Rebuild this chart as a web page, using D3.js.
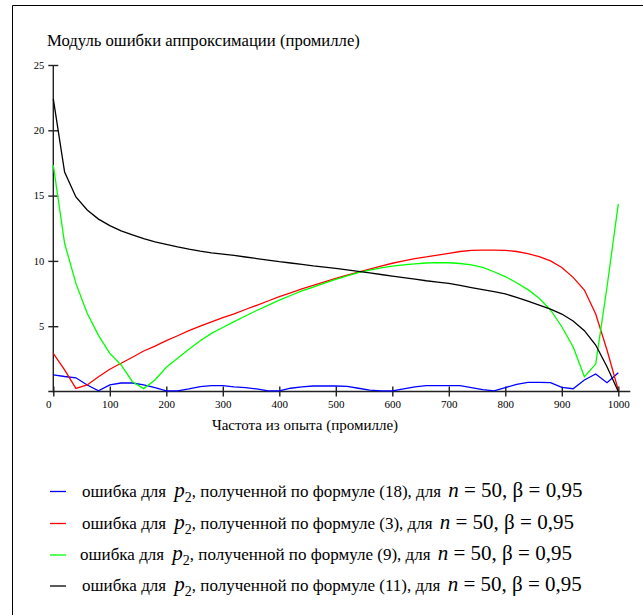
<!DOCTYPE html>
<html>
<head>
<meta charset="utf-8">
<script src="https://cdn.jsdelivr.net/npm/d3@7/dist/d3.min.js"></script>
<style>
  body { margin: 0; background: #fff; }
  svg text { font-family: "Liberation Serif", "Times New Roman", Times, Tinos, "DejaVu Serif", serif; }
</style>
</head>
<body>
<div id="chart"></div>
<script>
// частота из опыта (промилле)
var freq = [0, 20, 40, 60, 80, 100, 120, 140, 160, 180, 200, 220, 240, 260, 280, 300,
  320, 340, 360, 380, 400, 420, 440, 460, 480, 500, 520, 540, 560, 580, 600,
  620, 640, 660, 680, 700, 720, 740, 760, 780, 800, 820, 840, 860, 880, 900,
  920, 940, 960, 980, 1000];

// формула (18)
var errBlue = [1.28, 1.15, 1.05, 0.5, 0.05, 0.5, 0.65, 0.65, 0.5, 0.3, 0.05, 0.05, 0.2, 0.38, 0.45, 0.45,
  0.35, 0.3, 0.2, 0.05, 0.05, 0.25, 0.35, 0.42, 0.42, 0.42, 0.4, 0.25, 0.1, 0.05, 0.05,
  0.2, 0.35, 0.45, 0.45, 0.45, 0.45, 0.3, 0.15, 0.05, 0.3, 0.55, 0.7, 0.7, 0.68, 0.32,
  0.21, 0.88, 1.34, 0.67, 1.44];

// формула (3)
var errRed = [2.92, 1.65, 0.24, 0.5, 1.13, 1.7, 2.16, 2.62, 3.1, 3.48, 3.89, 4.27, 4.66, 5.0, 5.33, 5.65,
  5.95, 6.28, 6.6, 6.93, 7.26, 7.55, 7.85, 8.12, 8.4, 8.67, 8.92, 9.14, 9.37, 9.6, 9.82,
  10.0, 10.17, 10.3, 10.45, 10.58, 10.72, 10.81, 10.83, 10.83, 10.81, 10.72, 10.55, 10.32, 10.0, 9.5,
  8.74, 7.77, 5.93, 3.18, 0.1];

// формула (9)
var errGreen = [17.34, 11.35, 8.28, 5.99, 4.3, 2.92, 2.03, 0.75, 0.22, 0.88, 1.85, 2.54, 3.23, 3.89, 4.45, 4.9,
  5.35, 5.78, 6.2, 6.6, 7.0, 7.35, 7.7, 8.0, 8.3, 8.59, 8.85, 9.1, 9.3, 9.46, 9.6,
  9.7, 9.78, 9.84, 9.87, 9.86, 9.8, 9.7, 9.5, 9.17, 8.8, 8.33, 7.8, 7.14, 6.24, 4.96,
  3.43, 1.13, 2.1, 8.0, 14.36];

// формула (11)
var errBlack = [22.4, 16.8, 14.9, 13.9, 13.2, 12.7, 12.3, 12.0, 11.7, 11.45, 11.27, 11.07, 10.9, 10.75, 10.62, 10.52,
  10.42, 10.3, 10.18, 10.06, 9.94, 9.84, 9.73, 9.62, 9.53, 9.43, 9.32, 9.2, 9.08, 8.96, 8.84,
  8.72, 8.6, 8.48, 8.38, 8.28, 8.12, 7.96, 7.8, 7.64, 7.47, 7.2, 6.92, 6.62, 6.3, 5.93,
  5.4, 4.66, 3.56, 1.9, 0.0];

var formulas = ["18", "3", "9", "11"];
var colors = ["#0000ff", "#ff0000", "#00ff00", "#000000"];
var xTicks = [0, 100, 200, 300, 400, 500, 600, 700, 800, 900, 1000];
var yTicks = [5, 10, 15, 20, 25];

var W = 643, H = 615;

var svg = d3.select("#chart")
  .append("svg")
    .attr("width", W)
    .attr("height", H);

// frame (only top and left edges are visible)
svg.append("line")
  .attr("x1", 12.5).attr("x2", W).attr("y1", 5.5).attr("y2", 5.5)
  .style("stroke", "#000").style("stroke-width", 1);
svg.append("line")
  .attr("x1", 12.5).attr("x2", 12.5).attr("y1", 5.5).attr("y2", H)
  .style("stroke", "#000").style("stroke-width", 1);

var x = d3.scaleLinear()
  .domain([0, 1000])
  .range([53.3, 618.3]);
var y = d3.scaleLinear()
  .domain([0, 25])
  .range([391.5, 65]);

// title
svg.append("text")
  .attr("x", 47)
  .attr("y", 46)
  .style("font-size", "16.7px")
  .text("Модуль ошибки аппроксимации (промилле)");

// y axis
var yax = svg.append("g")
  .attr("transform", "translate(" + x(0) + ",0)")
  .call(d3.axisLeft(y).tickValues(yTicks).tickSizeOuter(0).tickSize(5).tickPadding(4));
yax.attr("font-family", null);
yax.select(".domain").remove();
yax.append("line")
  .attr("x1", 0).attr("x2", 0).attr("y1", y(0) + 1).attr("y2", y(25))
  .style("stroke", "#222").style("stroke-width", 1.4);
yax.selectAll(".tick line").attr("x1", -5).attr("x2", 5)
  .style("stroke", "#222").style("stroke-width", 1.4);
yax.selectAll(".tick text")
  .style("font-size", "10.5px")
  .style("fill", "#000");

// x axis
var xax = svg.append("g")
  .attr("transform", "translate(0," + y(0) + ")")
  .call(d3.axisBottom(x).tickValues(xTicks).tickFormat(d3.format("d"))
    .tickSizeOuter(0).tickSize(5).tickPadding(4));
xax.attr("font-family", null);
xax.select(".domain").remove();
xax.append("line")
  .attr("x1", x(0) - 5).attr("x2", x(1000) + 12).attr("y1", 0).attr("y2", 0)
  .style("stroke", "#222").style("stroke-width", 1.4);
xax.selectAll(".tick line").attr("y1", -5).attr("y2", 5)
  .style("stroke", "#222").style("stroke-width", 1.4);
xax.selectAll(".tick text")
  .style("font-size", "11px")
  .style("fill", "#000");
xax.selectAll(".tick")
  .filter(function(d) { return d === 0; })
  .select("text")
  .attr("x", -5);

// x axis title
svg.append("text")
  .attr("x", 305)
  .attr("y", 430)
  .attr("text-anchor", "middle")
  .style("font-size", "15px")
  .text("Частота из опыта (промилле)");

// curves
var series = [errBlue, errRed, errGreen, errBlack];
var line = d3.line()
  .x(function(d, i) { return x(freq[i]); })
  .y(function(d) { return y(d); });

svg.append("g")
  .selectAll("path")
  .data(series)
  .enter()
  .append("path")
    .attr("d", line)
    .style("fill", "none")
    .style("stroke", function(d, i) { return colors[i]; })
    .style("stroke-width", 1.3);

// legend
var rowY = [491.5, 523.5, 555, 586];
var leg = svg.append("g")
  .selectAll("g")
  .data(formulas)
  .enter()
  .append("g")
    .attr("transform", function(d, i) { return "translate(0," + rowY[i] + ")"; });

leg.append("line")
  .attr("x1", 50).attr("x2", 66)
  .attr("y1", 0).attr("y2", 0)
  .style("stroke", function(d, i) { return colors[i]; })
  .style("stroke-width", 1.3);

var t = leg.append("text")
  .attr("x", function(d, i) { return i === 2 ? 80 : 82; })
  .attr("y", 5)
  .style("font-size", "17px");
t.append("tspan").text("ошибка для ");
t.append("tspan")
  .attr("dx", 4)
  .style("font-style", "italic")
  .style("font-size", "21px")
  .text("p");
t.append("tspan")
  .attr("dy", 5)
  .style("font-size", "14px")
  .text("2");
t.append("tspan")
  .attr("dy", -5)
  .text(function(d) { return ", полученной по формуле (" + d + "), для "; });
t.append("tspan")
  .attr("dx", 3)
  .style("font-style", "italic")
  .style("font-size", "21px")
  .text("n");
t.append("tspan")
  .style("font-size", "21px")
  .text(" = 50, β = 0,95");
</script>
</body>
</html>
